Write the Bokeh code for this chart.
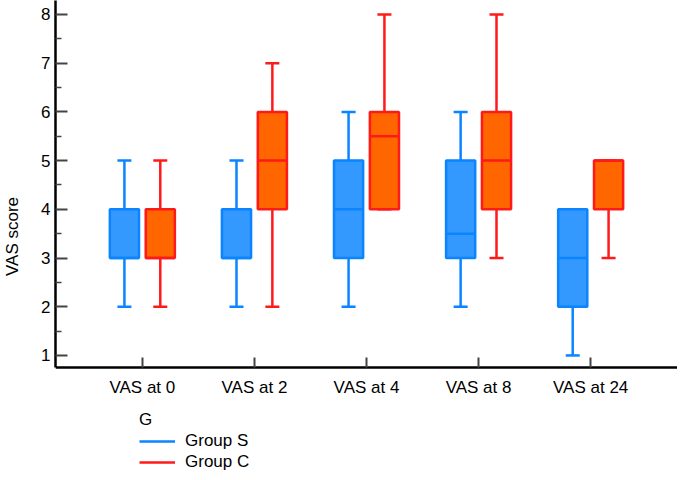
from bokeh.plotting import figure
from bokeh.models import (ColumnDataSource, FactorRange, FixedTicker, Legend, LegendItem)
from bokeh.transform import dodge
from bokeh.embed import file_html
from bokeh.resources import INLINE

cats = ["VAS at 0", "VAS at 2", "VAS at 4", "VAS at 8", "VAS at 24"]

s_min = [2, 2, 2, 2, 1]
s_q1 = [3, 3, 3, 3, 2]
s_med = [3, 3, 4, 3.5, 3]
s_q3 = [4, 4, 5, 5, 4]
s_max = [5, 5, 6, 6, 4]

c_min = [2, 2, 4, 3, 3]
c_q1 = [3, 4, 4, 4, 4]
c_med = [3, 5, 5.5, 5, 5]
c_q3 = [4, 6, 6, 6, 5]
c_max = [5, 7, 8, 8, 5]

y_ticks = [1, 2, 3, 4, 5, 6, 7, 8]
y_minor = [1.5, 2.5, 3.5, 4.5, 5.5, 6.5, 7.5]

FONT = "Liberation Sans"
FS = "17px"
Y_AXIS_LOW = 0.754
Y_TOP = 8.287

p = figure(width=677, height=472, output_backend="svg", toolbar_location=None,
           x_range=FactorRange(factors=cats, range_padding=0.275, range_padding_units="absolute"),
           y_range=(Y_TOP - 472 / 48.71, Y_TOP),
           min_border_left=53, min_border_right=0, min_border_top=0, min_border_bottom=0)
p.outline_line_color = None
p.grid.visible = False

groups = [
    ("Group S", -0.16, s_min, s_q1, s_med, s_q3, s_max, "#0A84FF", "#3399FF"),
    ("Group C", 0.16, c_min, c_q1, c_med, c_q3, c_max, "#FF1A1A", "#FF6600"),
]

items = []
for name, off, mn, q1, md, q3, mx, lc, fc in groups:
    src = ColumnDataSource(dict(cat=cats, mn=mn, q1=q1, md=md, q3=q3, mx=mx))
    x = dodge("cat", off, range=p.x_range)
    lw = p.segment(x0=x, y0="mn", x1=x, y1="q1", source=src, line_color=lc, line_width=2.5)
    p.segment(x0=x, y0="q3", x1=x, y1="mx", source=src, line_color=lc, line_width=2.5)
    p.segment(x0=dodge("cat", off - 0.0625, range=p.x_range), y0="mn",
              x1=dodge("cat", off + 0.0625, range=p.x_range), y1="mn",
              source=src, line_color=lc, line_width=2.5)
    p.segment(x0=dodge("cat", off - 0.0625, range=p.x_range), y0="mx",
              x1=dodge("cat", off + 0.0625, range=p.x_range), y1="mx",
              source=src, line_color=lc, line_width=2.5)
    p.vbar(x=x, width=0.26, bottom="q1", top="q3", source=src,
           fill_color=fc, line_color=lc, line_width=2.5)
    p.segment(x0=dodge("cat", off - 0.13, range=p.x_range), y0="md",
              x1=dodge("cat", off + 0.13, range=p.x_range), y1="md",
              source=src, line_color=lc, line_width=2.5)
    items.append(LegendItem(label=name, renderers=[lw]))

# axes
p.yaxis.ticker = FixedTicker(ticks=y_ticks, minor_ticks=y_minor)
p.yaxis.axis_label = "VAS score"
p.yaxis.bounds = (Y_AXIS_LOW, Y_TOP)
p.xaxis.fixed_location = Y_AXIS_LOW
for ax in (p.xaxis, p.yaxis):
    ax.axis_line_width = 2.5
    ax.axis_line_color = "black"
    ax.major_tick_out = 0
    ax.major_tick_line_color = "#444444"
    ax.major_tick_line_width = 2
    ax.minor_tick_out = 0
    ax.minor_tick_line_color = "#444444"
    ax.minor_tick_line_width = 1.5
    ax.major_label_text_font = FONT
    ax.major_label_text_font_size = FS
    ax.major_label_text_color = "black"
    ax.axis_label_text_font = FONT
    ax.axis_label_text_font_size = FS
    ax.axis_label_text_font_style = "normal"
    ax.axis_label_text_color = "black"
p.yaxis.major_tick_in = 12
p.yaxis.minor_tick_in = 6
p.yaxis.major_label_standoff = 5
p.yaxis.axis_label_standoff = 16
p.xaxis.major_tick_in = 10
p.xaxis.major_label_standoff = 11

legend = Legend(items=items, title="G", location=(84, 0),
                label_text_font=FONT, label_text_font_size=FS, label_text_color="black",
                title_text_font=FONT, title_text_font_size=FS, title_text_font_style="normal",
                title_text_color="black", title_standoff=1,
                glyph_width=36, glyph_height=20, label_standoff=10, spacing=1,
                padding=0, margin=0, border_line_color=None, background_fill_alpha=0)
p.add_layout(legend, "center")

open("out.html", "w").write(file_html(p, INLINE))
